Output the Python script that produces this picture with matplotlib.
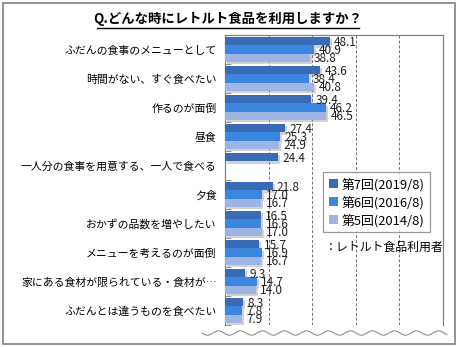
import matplotlib
matplotlib.use('Agg')
import matplotlib.pyplot as plt
import matplotlib.patheffects as pe
from matplotlib.lines import Line2D
from matplotlib.patches import Rectangle, Patch
import numpy as np

plt.rcParams['font.family'] = ['Noto Sans CJK JP', 'DejaVu Sans']

categories = [
    'ふだんの食事のメニューとして',
    '時間がない、すぐ食べたい',
    '作るのが面倒',
    '昼食',
    '一人分の食事を用意する、一人で食べる',
    '夕食',
    'おかずの品数を増やしたい',
    'メニューを考えるのが面倒',
    '家にある食材が限られている・食材が…',
    'ふだんとは違うものを食べたい',
]
series_names = ['第7回(2019/8)', '第6回(2016/8)', '第5回(2014/8)']
vals_7 = [48.1, 43.6, 39.4, 27.4, 24.4, 21.8, 16.5, 15.7, 9.3, 8.3]
vals_6 = [40.9, 38.4, 46.2, 25.3, None, 17.0, 16.6, 16.9, 14.7, 7.8]
vals_5 = [38.8, 40.8, 46.5, 24.9, None, 16.7, 17.0, 16.7, 14.0, 7.9]
colors = ['#3a6cb6', '#3b86df', '#9db5e4']

W, H = 458, 347
fig = plt.figure(figsize=(W / 100, H / 100), dpi=100)
ax = fig.add_axes([225 / W, 1 - 325 / H, 218 / W, 290 / H])

y = np.arange(len(categories))
bh = 0.28
offsets = [-bh, 0, bh]
shadow = [pe.SimplePatchShadow(offset=(1.5, -1.5), shadow_rgbFace='gray', alpha=0.35), pe.Normal()]

for vals, off, col in zip([vals_7, vals_6, vals_5], offsets, colors):
    for i, v in enumerate(vals):
        if v is None:
            continue
        b = ax.barh(y[i] + off, v, height=bh, color=col, zorder=3)
        b[0].set_path_effects(shadow)
        ax.text(v + 2.0, y[i] + off + 0.03, f'{v:.1f}', va='center', ha='left',
                fontsize=8.5, color='#222222', zorder=4)

ax.set_xlim(0, 100)
ax.set_ylim(len(categories) - 0.5, -0.5)
ax.set_xticks(np.arange(0, 101, 20))
ax.set_xticklabels([])
ax.tick_params(axis='x', length=0)
ax.grid(axis='x', linestyle=(0, (3, 2)), color='#707070', linewidth=0.7, zorder=0)

ax.set_yticks(y)
ax.set_yticklabels(categories, fontsize=7.8)
ax.tick_params(axis='y', which='major', length=0, pad=6)
ax.set_yticks(np.arange(-0.5, len(categories), 1), minor=True)
ax.tick_params(axis='y', which='minor', direction='in', length=4, color='#808080')

for s in ['top', 'right', 'left']:
    ax.spines[s].set_color('#808080')
    ax.spines[s].set_linewidth(0.9)
ax.spines['bottom'].set_visible(False)

# title
fig.text(228 / W, 1 - 19 / H, 'Q.どんな時にレトルト食品を利用しますか？',
         ha='center', va='center', fontsize=9.6, fontweight='bold')
fig.add_artist(Line2D([97 / W, 359 / W], [1 - 28 / H, 1 - 28 / H], color='black', lw=1))

# legend
handles = [Patch(facecolor=c, edgecolor='none') for c in colors]
leg = fig.legend(handles, series_names, loc='upper left', bbox_to_anchor=(317 / W, 1 - 166 / H),
                 fontsize=9.3, frameon=True, fancybox=False, edgecolor='#808080',
                 handlelength=0.7, handleheight=0.7, handletextpad=0.3,
                 labelspacing=0.35, borderpad=0.4)
leg.get_frame().set_linewidth(0.9)

fig.text(325 / W, 1 - 247 / H, '：レトルト食品利用者', ha='left', va='center', fontsize=8.6)

# axis break wave
xs = np.linspace(202, 447, 400)
ys = 333 + 2.2 * np.sin((xs - 202) / 22 * 2 * np.pi)
fig.add_artist(Line2D(xs / W, 1 - ys / H, color='#909090', lw=0.8))

# outer frame
fig.add_artist(Rectangle((3 / W, 3 / H), 452 / W, 341 / H, fill=False,
                         edgecolor='#808080', lw=1.2, transform=fig.transFigure))

fig.savefig('out.png', dpi=100)
